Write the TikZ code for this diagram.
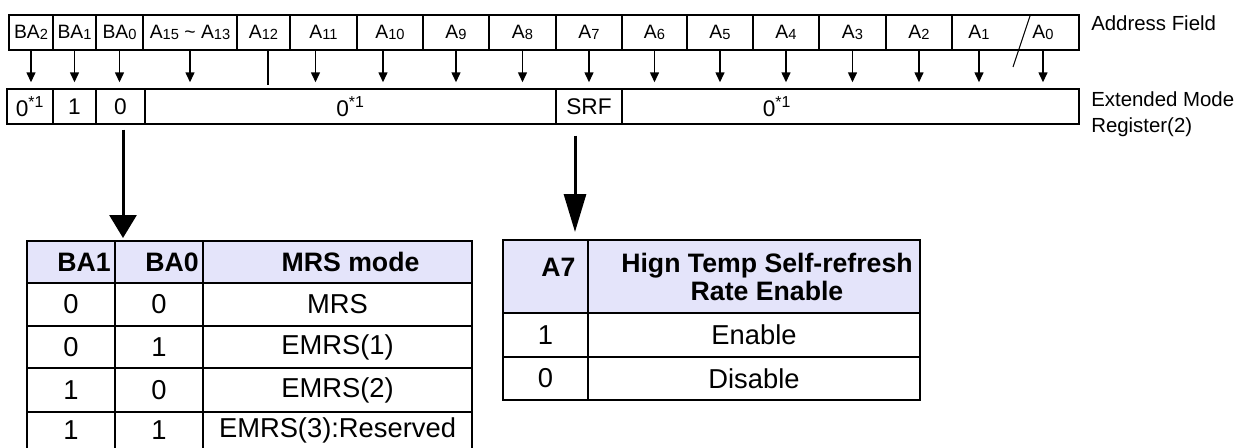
\documentclass[tikz,border=0pt]{standalone}
\usepackage{fontspec}
\setmainfont{Liberation Sans}
\usetikzlibrary{arrows.meta}

\definecolor{hdrblue}{RGB}{228,228,250}
\newcommand{\adr}[2]{#1\raisebox{-0.4pt}{\fontsize{11}{12}\selectfont #2}}
\newcommand{\zro}{0\textsuperscript{*1}}

\tikzset{
  fld/.style={draw, line width=1.1pt, inner sep=0pt, minimum height=26.25pt, font=\fontsize{14.5}{16}\selectfont},
  fldtxt/.style={inner sep=0pt, font=\fontsize{14.5}{16}\selectfont},
  reg/.style={draw, line width=1.1pt, inner sep=0pt, minimum height=26.25pt, font=\fontsize{17}{18}\selectfont},
  regtxt/.style={inner sep=0pt, font=\fontsize{17}{18}\selectfont},
  sidelbl/.style={inner sep=0pt, align=left, font=\fontsize{15.3}{19.5}\selectfont},
  bitarr/.style={-{Triangle[width=6.75pt,length=7.5pt]}, line width=1.1pt, shorten >=4.5pt},
  bigarr/.style={line width=2.25pt},
  tab/.style={line width=1.5pt},
  tabtxt/.style={font=\fontsize{20.5}{21}\selectfont},
  hdrtxt/.style={font=\bfseries\fontsize{20}{21}\selectfont, align=center, xshift=9.75pt},
}

\begin{document}
\begin{tikzpicture}[x=0.75pt, y=-0.75pt]
\useasboundingbox (0,0) rectangle (1235,447);
\clip (0,0) rectangle (1235,447);

% address field
\node[fld, minimum width=33pt] (ba2) at (31,32.5) {\adr{BA}{2}};
\node[fld, minimum width=32.25pt] (ba1) at (74.5,32.5) {\adr{BA}{1}};
\node[fld, minimum width=35.25pt] (ba0) at (119.5,32.5) {\adr{BA}{0}};
\node[fld, minimum width=70.5pt] (a15) at (190,32.5) {\adr{A}{15} \textasciitilde{} \adr{A}{13}};
\node[fld, minimum width=39.75pt] (a12) at (263.5,32.5) {\adr{A}{12}};
\node[fld, minimum width=50.25pt] (a11) at (323.5,32.5) {\adr{A}{11}};
\node[fld, minimum width=49.5pt] (a10) at (390,32.5) {\adr{A}{10}};
\node[fld, minimum width=49.5pt] (a9) at (456,32.5) {\adr{A}{9}};
\node[fld, minimum width=50.25pt] (a8) at (522.5,32.5) {\adr{A}{8}};
\node[fld, minimum width=49.5pt] (a7) at (589,32.5) {\adr{A}{7}};
\node[fld, minimum width=48.75pt] (a6) at (654.5,32.5) {\adr{A}{6}};
\node[fld, minimum width=49.5pt] (a5) at (720,32.5) {\adr{A}{5}};
\node[fld, minimum width=49.5pt] (a4) at (786,32.5) {\adr{A}{4}};
\node[fld, minimum width=50.25pt] (a3) at (852.5,32.5) {\adr{A}{3}};
\node[fld, minimum width=49.5pt] (a2) at (919,32.5) {\adr{A}{2}};
\node[fld, minimum width=95.25pt] (a1a0) at (1015.5,32.5) {};
\node[fldtxt] (a1) at (979,32.5) {\adr{A}{1}};
\node[fldtxt] (a0) at (1043,32.5) {\adr{A}{0}};
\draw[line width=0.8pt] (1030,16) -- (1013,67);

\node[sidelbl, anchor=west] (adrlbl) at (1091,23.5) {Address Field};

% extended mode register
\node[reg, minimum width=34.5pt] (z2) at (30,106.5) {\zro};
\node[reg, minimum width=32.25pt] (z1) at (74.5,106.5) {1};
\node[reg, minimum width=36.75pt] (z0) at (120.5,106.5) {0};
\node[reg, minimum width=308.25pt] (zmid) at (350.5,106.5) {\zro};
\node[reg, minimum width=49.5pt] (srf) at (589,106.5) {SRF};
\node[reg, minimum width=342.75pt] (zhi) at (850.5,106.5) {};
\node[regtxt] (zhitxt) at (777,106.5) {\zro};

\node[sidelbl, anchor=north west] (emrlbl) at (1091,91.5) {Extended Mode\\Register(2)};

% bit arrows
\draw[bitarr] (ba2) -- (ba2 |- z2.north);
\draw[bitarr] (ba1) -- (ba1 |- z2.north);
\draw[bitarr] (ba0) -- (ba0 |- z2.north);
\draw[bitarr] (a15) -- (a15 |- z2.north);
\draw[line width=1.1pt, shorten >=2.25pt] ([xshift=3.4pt]a12.south) -- ([xshift=3.4pt]a12.south |- z2.north);
\draw[bitarr] ([xshift=-6pt]a11.south) -- ([xshift=-6pt]a11.south |- z2.north);
\draw[bitarr] ([xshift=-5.25pt]a10.south) -- ([xshift=-5.25pt]a10.south |- z2.north);
\draw[bitarr] (a9) -- (a9 |- z2.north);
\draw[bitarr] (a8) -- (a8 |- z2.north);
\draw[bitarr] (a7) -- (a7 |- z2.north);
\draw[bitarr] (a6) -- (a6 |- z2.north);
\draw[bitarr] (a5) -- (a5 |- z2.north);
\draw[bitarr] (a4) -- (a4 |- z2.north);
\draw[bitarr] (a3) -- (a3 |- z2.north);
\draw[bitarr] (a2) -- (a2 |- z2.north);
\draw[bitarr] (a1 |- a1a0.south) -- (a1 |- z2.north);
\draw[bitarr] (a0 |- a1a0.south) -- (a0 |- z2.north);

% MRS mode table
\coordinate (t1top) at (123,241);
\fill[hdrblue] (27,241) rectangle (472,283);
\draw[tab] (27,450) -- (27,241) -- (472,241) -- (472,450);
\draw[tab] (115,241) -- (115,450);
\draw[tab] (203,241) -- (203,450);
\draw[tab] (27,283) -- (472,283);
\draw[tab] (27,326) -- (472,326);
\draw[tab] (27,368) -- (472,368);
\draw[tab] (27,412) -- (472,412);

\node[hdrtxt] (hba1) at (71,262) {BA1};
\node[hdrtxt] (hba0) at (159,262) {BA0};
\node[hdrtxt] (hmode) at (337.5,262) {MRS mode};
\node[tabtxt] (m1a) at (71,304.5) {0};
\node[tabtxt] (m1b) at (159,304.5) {0};
\node[tabtxt] (m1c) at (337.5,304.5) {MRS};
\node[tabtxt] (m2a) at (71,347) {0};
\node[tabtxt] (m2b) at (159,347) {1};
\node[tabtxt] (m2c) at (337.5,347) {EMRS(1)};
\node[tabtxt] (m3a) at (71,390) {1};
\node[tabtxt] (m3b) at (159,390) {0};
\node[tabtxt] (m3c) at (337.5,390) {EMRS(2)};
\node[tabtxt] (m4a) at (71,430) {1};
\node[tabtxt] (m4b) at (159,430) {1};
\node[tabtxt] (m4c) at (337.5,430) {EMRS(3):Reserved};

% self-refresh table
\coordinate (t2top) at (575,240);
\fill[hdrblue] (503,240) rectangle (920,313);
\draw[tab] (503,240) rectangle (920,400);
\draw[tab] (588,240) -- (588,400);
\draw[tab] (503,313) -- (920,313);
\draw[tab] (503,357) -- (920,357);

\node[hdrtxt] (ha7) at (545.5,267) {A7};
\node[hdrtxt] (hsrf) at (754,276.5) {Hign Temp Self-refresh\\Rate Enable};
\node[tabtxt] (s1a) at (545.5,335) {1};
\node[tabtxt] (s1b) at (754,335) {Enable};
\node[tabtxt] (s2a) at (545.5,378.5) {0};
\node[tabtxt] (s2b) at (754,378.5) {Disable};

% big arrows
\draw[bigarr, -{Triangle[width=20.25pt,length=17.25pt]}, shorten <=3.75pt, shorten >=2.25pt] (t1top |- z0.south) -- (t1top);
\draw[bigarr, -{Triangle[width=16.5pt,length=28.5pt]}, shorten <=8.25pt, shorten >=6pt] (t2top |- srf.south) -- (t2top);

\end{tikzpicture}
\end{document}
